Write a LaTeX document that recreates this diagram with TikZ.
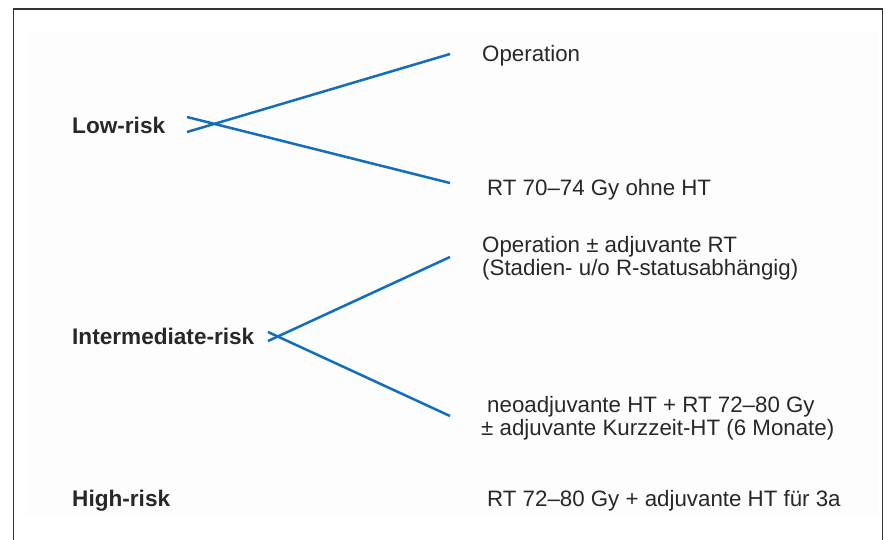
\documentclass[tikz,border=0pt]{standalone}
\usepackage{fontspec}
\setmainfont{Liberation Sans}
\usepackage{tikz}
\definecolor{riskblue}{RGB}{18,110,186}
\definecolor{txtgray}{RGB}{40,40,40}
\tikzset{
	risk/.style={font=\fontsize{22.6}{24}\selectfont\bfseries,text=txtgray,inner sep=0pt,anchor=base west},
	therapy/.style={font=\fontsize{22.3}{24}\selectfont,text=txtgray,inner sep=0pt,anchor=base west},
	branch/.style={riskblue,line width=2.5pt}
}

\begin{document}
\begin{tikzpicture}[x=1pt,y=-1pt]
	\useasboundingbox (0,0) rectangle (887,539);
	\clip (0,0) rectangle (887,539);
	\fill [black!0.8] (27,32) rectangle (878,516);
	\draw [black!80, line width=1.4pt] (13.5,9) rectangle (882.5,560);

	\node [risk] (low) at (72,133) {Low-risk};
	\node [risk] (inter) at (72,344) {Intermediate-risk};
	\node [risk] (high) at (72,506) {High-risk};

	\node [therapy] (op) at (482,61) {Operation};
	\node [therapy] (rt) at (487,195) {RT 70–74 Gy ohne HT};
	\node [therapy] (opadj) at (482,252) {Operation ± adjuvante RT};
	\node [therapy] (opadjb) at (482,275) {(Stadien- u/o R-statusabhängig)};
	\node [therapy] (neo) at (487,412) {neoadjuvante HT + RT 72–80 Gy};
	\node [therapy] (neob) at (481,435) {± adjuvante Kurzzeit-HT (6 Monate)};
	\node [therapy] (rthigh) at (487,506) {RT 72–80 Gy + adjuvante HT für 3a};

	\coordinate (lowa) at (187,117);
	\coordinate (lowb) at (187,132);
	\coordinate (opend) at (450,54);
	\coordinate (rtend) at (450,183);
	\coordinate (intera) at (268,332);
	\coordinate (interb) at (268,341);
	\coordinate (opadjend) at (450,257);
	\coordinate (neoend) at (450,416);

	\draw [branch] (lowb) -- (opend);
	\draw [branch] (lowa) -- (rtend);
	\draw [branch] (interb) -- (opadjend);
	\draw [branch] (intera) -- (neoend);
\end{tikzpicture}
\end{document}
